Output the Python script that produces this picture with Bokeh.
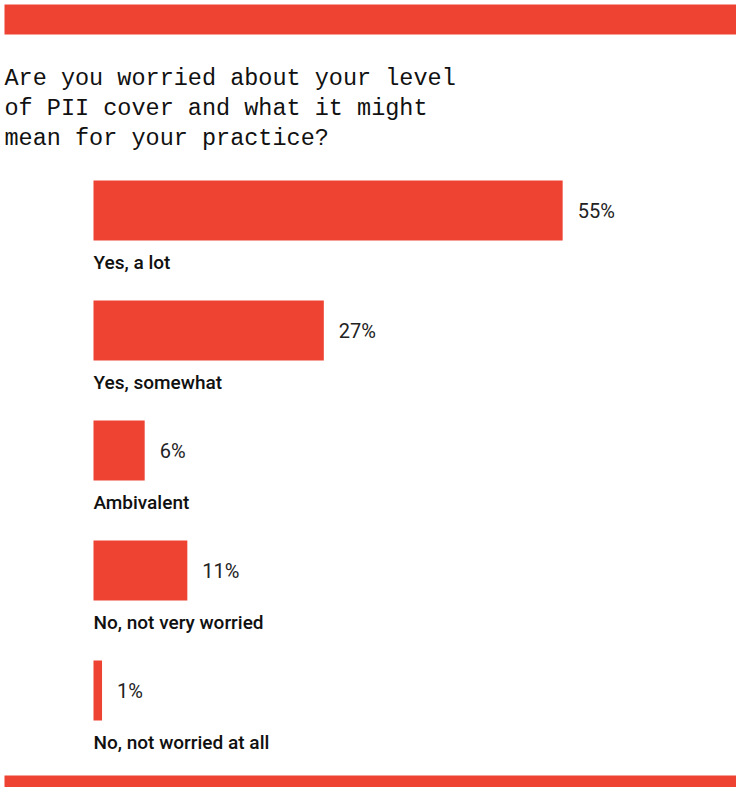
from bokeh.plotting import figure
from bokeh.models import Range1d, BoxAnnotation, ColumnDataSource
from bokeh.core.properties import value
from bokeh.embed import file_html
from bokeh.resources import INLINE

# ---- data ----
categories = ["Yes, a lot", "Yes, somewhat", "Ambivalent", "No,  not very worried", "No, not worried at all"]
percentages = [55, 27, 6, 11, 1]
value_labels = [f"{v}%" for v in percentages]
title_lines = ["Are you worried about your level",
               "of PII cover and what it might",
               "mean for your practice?"]

# ---- layout (pixels) ----
W, H = 736, 787
RED = "#EE4232"
PX_PER_PCT = 8.53
BAR_LEFT_PX = 93
ROW_PX = 120
FIRST_ROW_PX = 210

def px_x(px):
    return (px - BAR_LEFT_PX) / PX_PER_PCT

def px_y(px):
    return (px - FIRST_ROW_PX) / ROW_PX

p = figure(width=W, height=H, output_backend="svg", toolbar_location=None,
           x_range=Range1d(px_x(0), px_x(W)),
           y_range=Range1d(px_y(H), px_y(0)),
           min_border=0, background_fill_color="white", border_fill_color="white")
p.axis.visible = False
p.grid.visible = False
p.outline_line_color = None

rows = list(range(len(categories)))
src = ColumnDataSource(dict(
    y=rows, pct=percentages, cat=categories, lab=value_labels,
    label_y=[r + 52 / ROW_PX for r in rows],
))

p.hbar(y="y", left=0, right="pct", height=60 / ROW_PX, source=src,
       fill_color=RED, line_color=None)

p.text(x="pct", y="y", text="lab", source=src, x_offset=15,
       text_font=value("Roboto"), text_font_size="20px", text_color="#222222",
       text_baseline="middle", text_align="left")

p.text(x=0, y="label_y", text="cat", source=src,
       text_font=value("Roboto Medium"), text_font_size="19px",
       text_color="#111111", text_baseline="middle", text_align="left")

# title
p.text(x=[px_x(4)] * 3, y=[px_y(78), px_y(108), px_y(138)], text=title_lines,
       text_font=value("Liberation Mono"), text_font_size="23.5px", text_color="#111111",
       text_baseline="alphabetic", text_align="left")

# decorative bands
p.add_layout(BoxAnnotation(left=px_x(4), right=px_x(W + 10), top=px_y(4), bottom=px_y(34),
                           fill_color=RED, fill_alpha=1, line_color=None))
p.add_layout(BoxAnnotation(left=px_x(4), right=px_x(W + 10), top=px_y(775), bottom=px_y(H + 10),
                           fill_color=RED, fill_alpha=1, line_color=None))

open("out.html", "w").write(file_html(p, INLINE))
